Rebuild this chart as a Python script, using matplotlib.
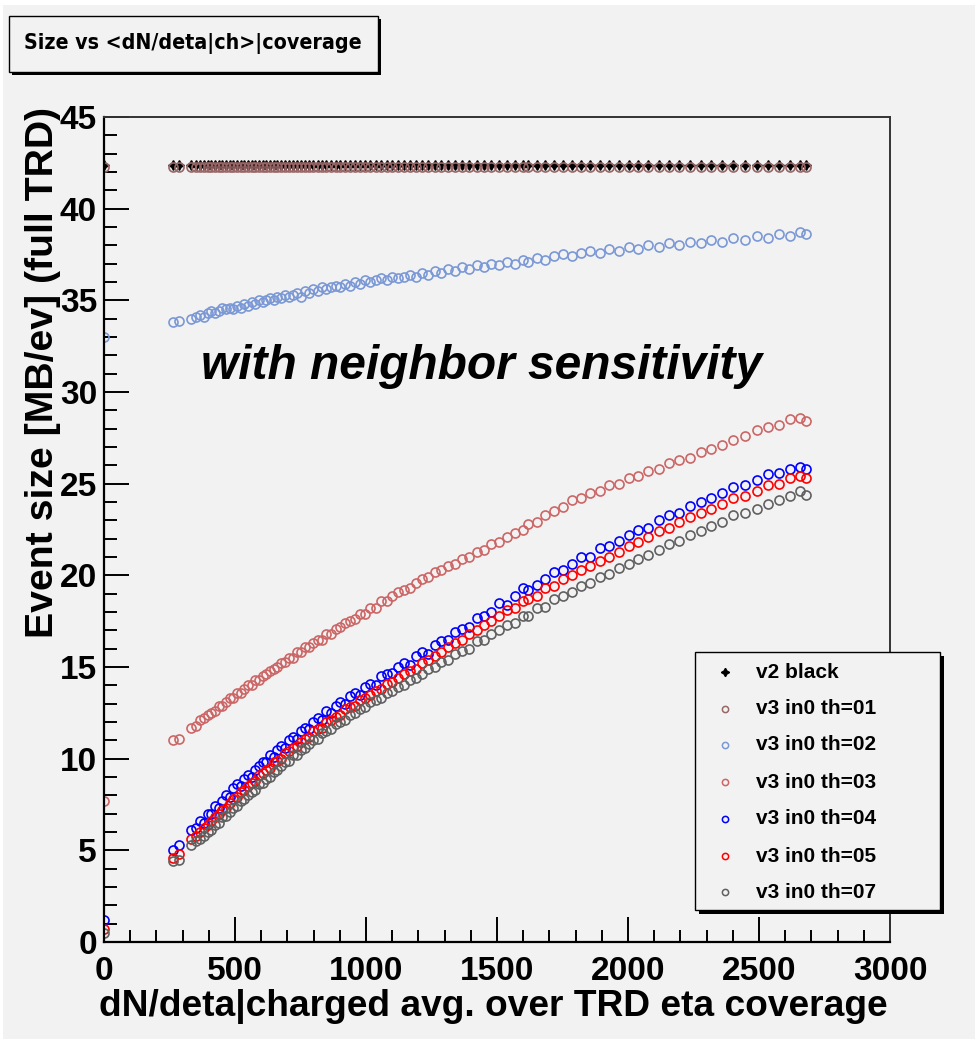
import matplotlib.pyplot as plt
from matplotlib import font_manager
from matplotlib.font_manager import FontProperties
from matplotlib.patches import Rectangle
from matplotlib.lines import Line2D
from matplotlib.ticker import MultipleLocator

# dN/deta (charged, averaged over TRD eta coverage) per event
mult = [0, 262, 285, 332, 350, 366, 381, 396, 410, 424,
        438, 452, 466, 480, 494, 508, 522, 536, 550, 564,
        578, 592, 606, 620, 634, 648, 662, 676, 690, 705,
        720, 735, 750, 766, 782, 798, 815, 832, 849, 866,
        884, 902, 920, 939, 958, 977, 997, 1017, 1037, 1058,
        1079, 1100, 1122, 1144, 1167, 1190, 1214, 1238, 1263, 1288,
        1314, 1340, 1367, 1394, 1422, 1450, 1479, 1508, 1538, 1568,
        1598, 1620, 1652, 1685, 1718, 1752, 1786, 1821, 1856, 1892,
        1928, 1965, 2002, 2040, 2078, 2117, 2156, 2196, 2236, 2277,
        2318, 2360, 2402, 2445, 2492, 2535, 2578, 2620, 2655, 2680]

# event size [MB/ev]
v2_black = [42.4, 42.4, 42.4, 42.4, 42.4, 42.4, 42.4, 42.4, 42.4, 42.4,
            42.4, 42.4, 42.4, 42.4, 42.4, 42.4, 42.4, 42.4, 42.4, 42.4,
            42.4, 42.4, 42.4, 42.4, 42.4, 42.4, 42.4, 42.4, 42.4, 42.4,
            42.4, 42.4, 42.4, 42.4, 42.4, 42.4, 42.4, 42.4, 42.4, 42.4,
            42.4, 42.4, 42.4, 42.4, 42.4, 42.4, 42.4, 42.4, 42.4, 42.4,
            42.4, 42.4, 42.4, 42.4, 42.4, 42.4, 42.4, 42.4, 42.4, 42.4,
            42.4, 42.4, 42.4, 42.4, 42.4, 42.4, 42.4, 42.4, 42.4, 42.4,
            42.4, 42.4, 42.4, 42.4, 42.4, 42.4, 42.4, 42.4, 42.4, 42.4,
            42.4, 42.4, 42.4, 42.4, 42.4, 42.4, 42.4, 42.4, 42.4, 42.4,
            42.4, 42.4, 42.4, 42.4, 42.4, 42.4, 42.4, 42.4, 42.4, 42.4]

th01 = [42.3, 42.3, 42.3, 42.3, 42.3, 42.3, 42.3, 42.3, 42.3, 42.3,
        42.3, 42.3, 42.3, 42.3, 42.3, 42.3, 42.3, 42.3, 42.3, 42.3,
        42.3, 42.3, 42.3, 42.3, 42.3, 42.3, 42.3, 42.3, 42.3, 42.3,
        42.3, 42.3, 42.3, 42.3, 42.3, 42.3, 42.3, 42.3, 42.3, 42.3,
        42.3, 42.3, 42.3, 42.3, 42.3, 42.3, 42.3, 42.3, 42.3, 42.3,
        42.3, 42.3, 42.3, 42.3, 42.3, 42.3, 42.3, 42.3, 42.3, 42.3,
        42.3, 42.3, 42.3, 42.3, 42.3, 42.3, 42.3, 42.3, 42.3, 42.3,
        42.3, 42.3, 42.3, 42.3, 42.3, 42.3, 42.3, 42.3, 42.3, 42.3,
        42.3, 42.3, 42.3, 42.3, 42.3, 42.3, 42.3, 42.3, 42.3, 42.3,
        42.3, 42.3, 42.3, 42.3, 42.3, 42.3, 42.3, 42.3, 42.3, 42.3]

th02 = [33.0, 33.8, 33.9, 34.0, 34.1, 34.2, 34.1, 34.3, 34.4, 34.3,
        34.4, 34.6, 34.5, 34.6, 34.5, 34.7, 34.6, 34.8, 34.7, 34.9,
        34.8, 35.0, 34.9, 35.0, 35.1, 35.0, 35.2, 35.1, 35.3, 35.2,
        35.3, 35.4, 35.2, 35.5, 35.4, 35.6, 35.5, 35.7, 35.6, 35.7,
        35.8, 35.7, 35.9, 35.8, 36.0, 35.9, 36.1, 36.0, 36.1, 36.2,
        36.1, 36.3, 36.2, 36.3, 36.4, 36.3, 36.5, 36.4, 36.6, 36.5,
        36.7, 36.6, 36.8, 36.7, 36.9, 36.8, 37.0, 36.9, 37.1, 37.0,
        37.2, 37.1, 37.3, 37.2, 37.4, 37.5, 37.4, 37.6, 37.7, 37.6,
        37.8, 37.7, 37.9, 37.8, 38.0, 37.9, 38.1, 38.0, 38.2, 38.1,
        38.3, 38.2, 38.4, 38.3, 38.5, 38.4, 38.6, 38.5, 38.7, 38.6]

th03 = [7.7, 11.0, 11.1, 11.7, 11.8, 12.1, 12.2, 12.4, 12.5, 12.6,
        12.9, 12.9, 13.1, 13.3, 13.3, 13.6, 13.6, 13.8, 14.0, 14.0,
        14.3, 14.3, 14.5, 14.6, 14.8, 14.9, 15.0, 15.2, 15.3, 15.5,
        15.5, 15.8, 15.8, 16.1, 16.1, 16.3, 16.5, 16.5, 16.8, 16.8,
        17.1, 17.2, 17.4, 17.5, 17.6, 17.9, 17.9, 18.2, 18.2, 18.6,
        18.6, 18.9, 19.1, 19.2, 19.3, 19.6, 19.8, 19.9, 20.2, 20.3,
        20.5, 20.6, 20.9, 21.0, 21.3, 21.4, 21.7, 21.8, 22.1, 22.3,
        22.5, 22.8, 22.9, 23.3, 23.5, 23.7, 24.1, 24.2, 24.5, 24.6,
        24.9, 25.0, 25.3, 25.4, 25.7, 25.8, 26.1, 26.3, 26.4, 26.7,
        26.9, 27.1, 27.4, 27.6, 27.9, 28.1, 28.2, 28.5, 28.6, 28.4]

th04 = [1.2, 5.0, 5.3, 6.1, 6.2, 6.6, 6.5, 7.0, 7.0, 7.4,
        7.3, 7.7, 8.0, 7.9, 8.4, 8.6, 8.5, 8.9, 9.1, 9.0,
        9.4, 9.6, 9.8, 9.8, 10.2, 10.1, 10.5, 10.7, 10.6, 11.0,
        11.2, 11.1, 11.5, 11.7, 11.6, 12.0, 12.2, 12.1, 12.6, 12.5,
        12.9, 13.1, 13.0, 13.4, 13.6, 13.5, 13.9, 14.1, 14.0, 14.5,
        14.6, 14.7, 15.0, 15.2, 15.1, 15.6, 15.8, 15.7, 16.2, 16.4,
        16.5, 16.9, 17.1, 17.2, 17.7, 17.8, 18.0, 18.5, 18.4, 18.9,
        19.3, 19.2, 19.5, 19.8, 20.2, 20.3, 20.6, 21.0, 21.0, 21.5,
        21.6, 21.9, 22.2, 22.5, 22.6, 23.0, 23.3, 23.4, 23.8, 24.0,
        24.2, 24.5, 24.8, 24.9, 25.2, 25.5, 25.6, 25.8, 25.9, 25.8]

th05 = [0.7, 4.6, 4.8, 5.6, 5.8, 6.0, 6.2, 6.4, 6.6, 6.8,
        7.0, 7.2, 7.3, 7.6, 7.8, 7.9, 8.2, 8.3, 8.5, 8.7,
        8.8, 9.1, 9.2, 9.4, 9.5, 9.8, 9.9, 10.0, 10.3, 10.4,
        10.6, 10.7, 10.9, 11.1, 11.2, 11.5, 11.6, 11.7, 12.0, 12.1,
        12.3, 12.4, 12.7, 12.8, 12.9, 13.2, 13.3, 13.5, 13.7, 13.8,
        14.1, 14.2, 14.4, 14.6, 14.8, 14.9, 15.2, 15.4, 15.6, 15.8,
        16.1, 16.3, 16.5, 16.8, 17.0, 17.3, 17.5, 17.8, 18.1, 18.2,
        18.6, 18.7, 18.9, 19.3, 19.4, 19.8, 20.0, 20.3, 20.5, 20.8,
        21.0, 21.3, 21.6, 21.8, 22.1, 22.4, 22.6, 22.9, 23.2, 23.4,
        23.6, 23.9, 24.2, 24.3, 24.6, 24.9, 25.0, 25.3, 25.4, 25.3]

th07 = [0.5, 4.4, 4.5, 5.3, 5.5, 5.6, 5.8, 6.0, 6.1, 6.4,
        6.5, 6.8, 6.9, 7.1, 7.3, 7.4, 7.7, 7.8, 8.0, 8.2,
        8.3, 8.6, 8.7, 8.9, 9.0, 9.3, 9.4, 9.6, 9.8, 9.9,
        10.2, 10.2, 10.5, 10.6, 10.8, 11.0, 11.1, 11.4, 11.5, 11.6,
        11.9, 12.0, 12.1, 12.4, 12.5, 12.7, 12.8, 13.1, 13.2, 13.3,
        13.6, 13.7, 13.9, 14.0, 14.3, 14.4, 14.6, 14.9, 15.0, 15.3,
        15.4, 15.7, 15.9, 16.0, 16.4, 16.5, 16.8, 17.0, 17.3, 17.4,
        17.8, 17.8, 18.2, 18.3, 18.7, 18.9, 19.1, 19.4, 19.6, 19.9,
        20.1, 20.4, 20.6, 20.9, 21.1, 21.4, 21.7, 21.9, 22.2, 22.4,
        22.7, 22.9, 23.3, 23.4, 23.6, 23.9, 24.1, 24.3, 24.6, 24.4]

labels = ['v2 black', 'v3 in0 th=01', 'v3 in0 th=02', 'v3 in0 th=03',
          'v3 in0 th=04', 'v3 in0 th=05', 'v3 in0 th=07']
series = [v2_black, th01, th02, th03, th04, th05, th07]
colors = ['black', '#996666', '#7b98d6', '#cc6666', '#0000ff', '#ff0000', '#606060']

BG = '#f2f2f2'
W, H = 975, 1039

plt.rcParams['font.family'] = ['Liberation Sans', 'DejaVu Sans']
plt.rcParams['font.weight'] = 'bold'

def fx(px):
    return px / W

def fy(py):
    return 1 - py / H

fig = plt.figure(figsize=(W / 100, H / 100), dpi=100, facecolor=BG)

# canvas edges
fig.add_artist(Rectangle((0, fy(5)), 1, 1 - fy(5), transform=fig.transFigure,
                         facecolor='white', edgecolor='none'))
fig.add_artist(Rectangle((0, 0), fx(3), 1, transform=fig.transFigure,
                         facecolor='white', edgecolor='none'))

ax = fig.add_axes([fx(104), fy(942), fx(890) - fx(104), fy(117) - fy(942)])
ax.set_facecolor(BG)

for i, (vals, col) in enumerate(zip(series, colors)):
    if i == 0:
        ax.plot(mult, vals, ls='none', marker=(4, 1, 0), ms=7, color=col)
    else:
        ax.plot(mult, vals, ls='none', marker='o', ms=6.5, mfc='none',
                mec=col, mew=1.2)

ax.set_xlim(0, 3000)
ax.set_ylim(0, 45)
ax.xaxis.set_major_locator(MultipleLocator(500))
ax.xaxis.set_minor_locator(MultipleLocator(100))
ax.yaxis.set_major_locator(MultipleLocator(5))
ax.yaxis.set_minor_locator(MultipleLocator(1))
ax.tick_params(which='both', direction='in', top=False, right=False, width=1.4)
ax.tick_params(which='major', length=18, labelsize=24)
ax.tick_params(which='minor', length=9)
ax.tick_params(axis='x', pad=10)
ax.tick_params(axis='y', pad=5)
for lab in ax.get_xticklabels() + ax.get_yticklabels():
    lab.set_fontweight('bold')

for s in ['left', 'bottom']:
    ax.spines[s].set_linewidth(1.6)
for s in ['top', 'right']:
    ax.spines[s].set_linewidth(1.4)
    ax.spines[s].set_color('#333333')

fig.text(fx(43), fy(107), 'Event size [MB/ev] (full TRD)', rotation=90,
         ha='center', va='top', fontsize=28.3, fontweight='bold')
fig.text(fx(888), fy(1006), 'dN/deta|charged avg. over TRD eta coverage',
         ha='right', va='center', fontsize=26.7, fontweight='bold')

fig.text(fx(482), fy(367), 'with neighbor sensitivity', ha='center', va='center',
         fontsize=34.5, fontweight='bold', fontstyle='italic')

# title box, narrow bold face if one is installed
def is_narrow(f):
    n = f.name.lower()
    return ('narrow' in n or 'condensed' in n
            or f.stretch in ('condensed', 'semi-condensed', 'extra-condensed'))

narrow = [f for f in font_manager.fontManager.ttflist
          if is_narrow(f) and str(f.weight) in ('bold', '700') and f.style == 'normal']
if narrow:
    tprop = FontProperties(fname=narrow[0].fname, size=18)
else:
    tprop = FontProperties(family='Liberation Sans', weight='bold', size=15)

fig.add_artist(Rectangle((fx(12), fy(75)), fx(369), fy(16) - fy(72),
                         transform=fig.transFigure, facecolor='black',
                         edgecolor='none'))
fig.add_artist(Rectangle((fx(9), fy(72)), fx(369), fy(16) - fy(72),
                         transform=fig.transFigure, facecolor=BG,
                         edgecolor='black', lw=1))
ttl = fig.text(fx(193), fy(44), 'Size vs <dN/deta|ch>|coverage', ha='center',
               va='center', fontproperties=tprop)
rend = fig.canvas.get_renderer()
tw = ttl.get_window_extent(rend).width
ttl.set_fontsize(tprop.get_size() * 338 / tw)

# legend box
lx0, ly0, lx1, ly1 = 695, 652, 940, 910
fig.add_artist(Rectangle((fx(lx0 + 4), fy(ly1 + 4)), fx(lx1 - lx0), fy(ly0) - fy(ly1),
                         transform=fig.transFigure, facecolor='black',
                         edgecolor='none'))
fig.add_artist(Rectangle((fx(lx0), fy(ly1)), fx(lx1 - lx0), fy(ly0) - fy(ly1),
                         transform=fig.transFigure, facecolor=BG,
                         edgecolor='black', lw=1))
rows = [672, 709, 745, 782, 819, 856, 892]
for i, (lab, col, ry) in enumerate(zip(labels, colors, rows)):
    if i == 0:
        mk = Line2D([fx(725)], [fy(ry)], transform=fig.transFigure, ls='none',
                    marker=(4, 1, 0), ms=6, color=col)
    else:
        mk = Line2D([fx(725)], [fy(ry)], transform=fig.transFigure, ls='none',
                    marker='o', ms=4.5, mfc='none', mec=col, mew=1.1)
    fig.add_artist(mk)
    fig.text(fx(756), fy(ry), lab, ha='left', va='center', fontsize=15,
             fontweight='bold')

fig.savefig('out.png', dpi=100, facecolor=BG)
